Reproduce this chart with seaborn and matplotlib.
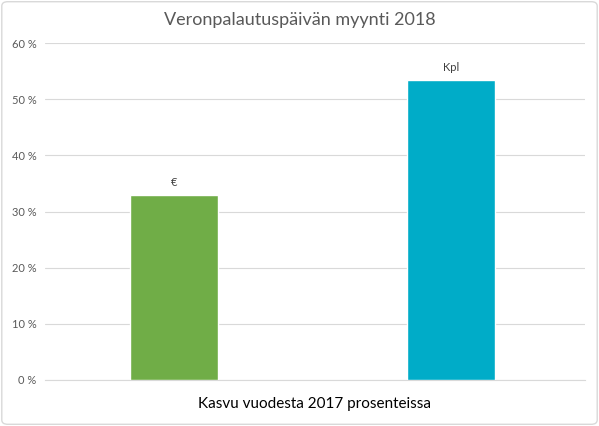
import matplotlib
matplotlib.use("Agg")
import matplotlib.pyplot as plt
import seaborn as sns
import pandas as pd
from matplotlib.patches import FancyBboxPatch

categories = ["€", "Kpl"]
values = [33.0, 53.5]
colors = ["#70AD47", "#00ACC8"]
yticks = [0, 10, 20, 30, 40, 50, 60]

df = pd.DataFrame({"cat": categories, "val": values})

sns.set_style("white")
plt.rcParams['font.family'] = ['Lato', 'DejaVu Sans']
fig = plt.figure(figsize=(5.99, 4.26), dpi=100)
ax = fig.add_axes([45/599, 1-380/426, 540/599, 337/426])
sns.barplot(data=df, x="cat", y="val", hue="cat", palette=colors, width=0.32,
            saturation=1, legend=False, ax=ax, zorder=3)
ax.set_xlim(-0.466, 1.484)
ax.set_ylim(0, 60)
ax.set_yticks(yticks)
ax.set_yticklabels([f"{t} %" for t in yticks], fontsize=8, color="#595959")
ax.set_xticks([])
ax.grid(axis="y", color="#D9D9D9", linewidth=0.8, zorder=0)
for s in ["top", "right", "left"]:
    ax.spines[s].set_visible(False)
ax.spines["bottom"].set_color("#D9D9D9")
ax.tick_params(axis="y", length=0, pad=6)
ax.set_xlabel("Kasvu vuodesta 2017 prosenteissa", fontsize=11, color="black", labelpad=12)
ax.set_ylabel("")
for i, (c, v) in enumerate(zip(categories, values)):
    ax.text(i, v + 1.2, c, ha="center", va="bottom", fontsize=8, color="#404040")
fig.text(0.5, 1-20/426, "Veronpalautuspäivän myynti 2018", ha="center", va="center",
         fontsize=13, color="#595959")
fig.patches.append(FancyBboxPatch((0.003, 0.004), 0.994, 0.992, boxstyle="round,pad=0,rounding_size=0.01",
                                  transform=fig.transFigure, fill=False, edgecolor="#D9D9D9", linewidth=1))
fig.savefig("out.png", dpi=100)
